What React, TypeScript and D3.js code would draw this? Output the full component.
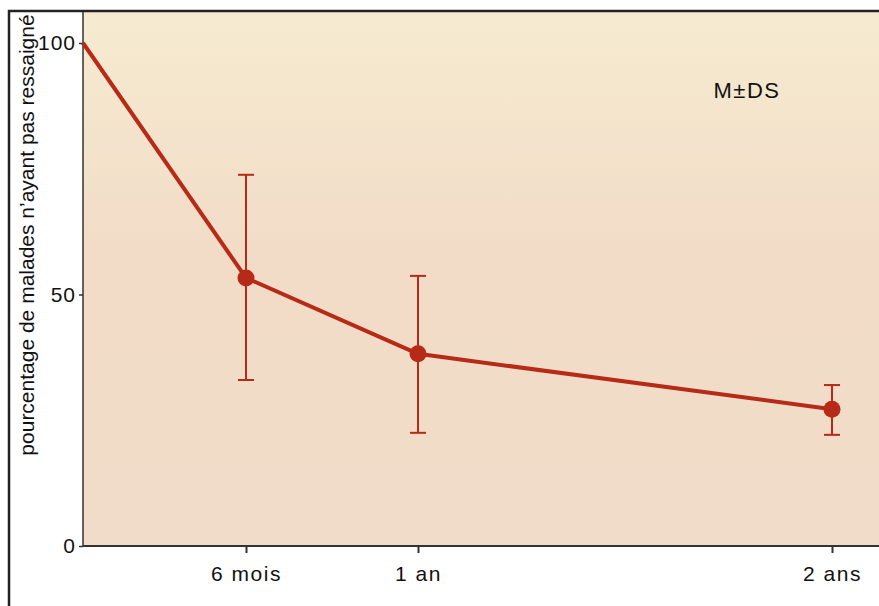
import React, { useEffect, useRef } from "react";
import * as d3 from "d3";

// months after start; 0 is the starting point (100 %)
const months = [0, 6, 12, 24];
const means = [100, 53.3, 38.2, 27.2];
const upper = [null, 73.8, 53.7, 32.0];
const lower = [null, 33.0, 22.5, 22.1];
const xTicks = [6, 12, 24];
const xTickLabels = ["6 mois", "1 an", "2 ans"];
const yTicks = [0, 50, 100];

const W = 879;
const H = 606;

const App = () => {
  const svgRef = useRef(null);

  useEffect(() => {
    const svg = d3.select(svgRef.current);
    svg.selectAll("*").remove();

    const left = 83;
    const top = 12;
    const bottom = 546;
    const font = "'Liberation Sans', Arial, sans-serif";
    const red = "#b62a17";

    // the original axis is hand drawn, so the time scale is piecewise
    const x = d3.scaleLinear().domain(months).range([83, 246, 418, 832]);
    const y = d3.scaleLinear().domain([0, 100]).range([bottom, 43]);

    const defs = svg.append("defs");
    const grad = defs
      .append("linearGradient")
      .attr("id", "paper")
      .attr("x1", 0)
      .attr("y1", 0)
      .attr("x2", 0)
      .attr("y2", 1);
    grad.append("stop").attr("offset", "0%").attr("stop-color", "#f6ebd1");
    grad.append("stop").attr("offset", "45%").attr("stop-color", "#f2dcc7");
    grad.append("stop").attr("offset", "100%").attr("stop-color", "#f0dcc8");

    svg.append("rect").attr("width", W).attr("height", H).attr("fill", "#fff");

    // plot background
    svg
      .append("rect")
      .attr("x", left)
      .attr("y", top)
      .attr("width", W - left)
      .attr("height", bottom - top)
      .attr("fill", "url(#paper)");

    // outer frame
    svg
      .append("path")
      .attr("d", `M9,${H} V11 H${W}`)
      .attr("fill", "none")
      .attr("stroke", "#222")
      .attr("stroke-width", 2.5);

    // y axis
    const yAxis = svg
      .append("g")
      .attr("transform", `translate(${left},0)`)
      .call(d3.axisLeft(y).tickValues(yTicks).tickSize(4).tickPadding(3));
    yAxis.select(".domain").attr("d", `M0,${top}V${bottom}`).attr("stroke", "#333").attr("stroke-width", 1.5);
    yAxis.selectAll(".tick line").attr("stroke", "#333").attr("stroke-width", 1.5);
    yAxis
      .selectAll(".tick text")
      .attr("font-family", font)
      .attr("font-size", 21)
      .attr("letter-spacing", 1)
      .attr("fill", "#111");

    // x axis
    const xAxis = svg
      .append("g")
      .attr("transform", `translate(0,${bottom})`)
      .call(
        d3
          .axisBottom(x)
          .tickValues(xTicks)
          .tickFormat((d, i) => xTickLabels[i])
          .tickSize(7)
          .tickPadding(13)
      );
    xAxis.select(".domain").attr("d", `M${left},0H${W}`).attr("stroke", "#333").attr("stroke-width", 2);
    xAxis.selectAll(".tick line").attr("stroke", "#333").attr("stroke-width", 2);
    xAxis
      .selectAll(".tick text")
      .attr("font-family", font)
      .attr("font-size", 21)
      .attr("letter-spacing", 1.5)
      .attr("fill", "#111");

    // y axis title
    svg
      .append("text")
      .attr("transform", `translate(34,${(top + 458) / 2}) rotate(-90)`)
      .attr("text-anchor", "middle")
      .attr("font-family", font)
      .attr("font-size", 21)
      .attr("fill", "#111")
      .text("pourcentage de malades n’ayant pas ressaigné");

    // legend
    svg
      .append("text")
      .attr("x", 747)
      .attr("y", 98)
      .attr("text-anchor", "middle")
      .attr("font-family", font)
      .attr("font-size", 22)
      .attr("letter-spacing", 1.5)
      .attr("fill", "#111")
      .text("M±DS");

    const pts = months.map((m, i) => ({ m, v: means[i], hi: upper[i], lo: lower[i] }));

    // error bars
    const eb = svg
      .append("g")
      .selectAll("g")
      .data(pts.filter((d) => d.hi != null))
      .join("g")
      .attr("stroke", red)
      .attr("stroke-width", 2);
    eb.append("line")
      .attr("x1", (d) => x(d.m))
      .attr("x2", (d) => x(d.m))
      .attr("y1", (d) => y(d.hi))
      .attr("y2", (d) => y(d.lo));
    eb.append("line")
      .attr("x1", (d) => x(d.m) - 8)
      .attr("x2", (d) => x(d.m) + 8)
      .attr("y1", (d) => y(d.hi))
      .attr("y2", (d) => y(d.hi));
    eb.append("line")
      .attr("x1", (d) => x(d.m) - 8)
      .attr("x2", (d) => x(d.m) + 8)
      .attr("y1", (d) => y(d.lo))
      .attr("y2", (d) => y(d.lo));

    // mean line
    const line = d3
      .line()
      .x((d) => x(d.m))
      .y((d) => y(d.v));
    svg
      .append("path")
      .datum(pts)
      .attr("d", line)
      .attr("fill", "none")
      .attr("stroke", red)
      .attr("stroke-width", 4)
      .attr("stroke-linejoin", "round");

    svg
      .append("g")
      .selectAll("circle")
      .data(pts.slice(1))
      .join("circle")
      .attr("cx", (d) => x(d.m))
      .attr("cy", (d) => y(d.v))
      .attr("r", 8.5)
      .attr("fill", red);
  }, []);

  return (
    <svg
      ref={svgRef}
      width={W}
      height={H}
      style={{ position: "absolute", left: 0, top: 0, display: "block" }}
    />
  );
};

export default App;
